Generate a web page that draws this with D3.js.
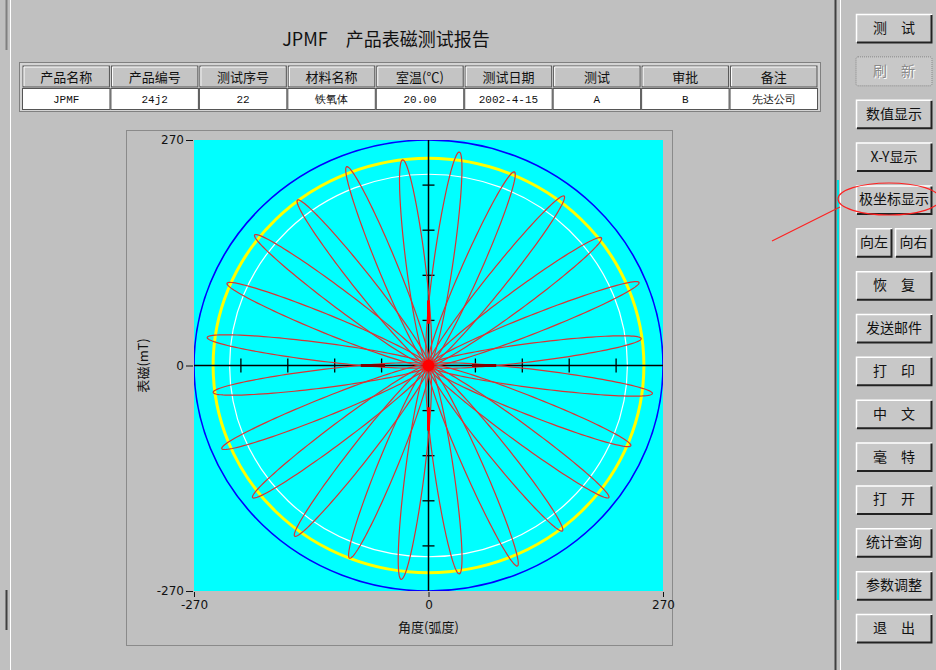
<!DOCTYPE html>
<html>
<head>
<meta charset="utf-8">
<script src="https://cdn.jsdelivr.net/npm/d3@7"></script>
<style>
  body { margin: 0; background: #c0c0c0; }
  text { font-family: "Noto Sans CJK SC", "DejaVu Sans", sans-serif; }
  .mono { font-family: "Liberation Mono", "DejaVu Sans Mono", monospace; }
</style>
</head>
<body>
<svg width="936" height="670"></svg>
<script>
// data
var tableHeaders = ["产品名称", "产品编号", "测试序号", "材料名称", "室温(℃)", "测试日期", "测试", "审批", "备注"];
var tableValues = ["JPMF", "24j2", "22", "铁氧体", "20.00", "2002-4-15", "A", "B", "先达公司"];

var petalAngles = [7.5, 22.3, 37.5, 52.4, 66.9, 82.1, 96.9, 111.6, 127.3, 142, 157, 172.5,
                   187.4, 202.7, 218, 233, 248.5, 263, 278.1, 293.1, 307.9, 322.7, 337.6, 352.6];
var petalPeaks = [247, 262, 251, 256, 252, 258, 248, 256, 249, 254, 252, 257,
                  250, 258, 257, 256, 248, 258, 252, 261, 251, 261, 252, 260];

var ringValues = [270, 248, 229];
var axisTicks = [-270, 0, 270];
var gridTicks = [-216, -162, -108, -54, 54, 108, 162, 216];
var axisMarks = [50, 78];

var buttonLabels = ["测\u3000试", "刷\u3000新", "数值显示", "X-Y显示", "极坐标显示", "向左|向右", "恢\u3000复", "发送邮件",
                    "打\u3000印", "中\u3000文", "毫\u3000特", "打\u3000开", "统计查询", "参数调整", "退\u3000出"];

var svg = d3.select("svg"),
    width = +svg.attr("width"),
    height = +svg.attr("height");

// window chrome
svg.append("rect").attr("width", width).attr("height", height).attr("fill", "#c0c0c0");
svg.append("line").attr("x1", 10.5).attr("x2", 10.5).attr("y1", 0).attr("y2", height).attr("stroke", "#fff");
svg.append("line").attr("x1", 6.5).attr("x2", 6.5).attr("y1", 0).attr("y2", 50).attr("stroke", "#808080").attr("stroke-width", 2);
svg.append("line").attr("x1", 6.5).attr("x2", 6.5).attr("y1", 590).attr("y2", 630).attr("stroke", "#404040").attr("stroke-width", 2);
svg.append("line").attr("x1", 835.5).attr("x2", 835.5).attr("y1", 0).attr("y2", height).attr("stroke", "#404040").attr("stroke-width", 2);
svg.append("line").attr("x1", 838).attr("x2", 838).attr("y1", 180).attr("y2", 600).attr("stroke", "#00e0e0").attr("stroke-width", 2);
svg.append("line").attr("x1", 840.5).attr("x2", 840.5).attr("y1", 0).attr("y2", height).attr("stroke", "#fff");

// title
svg.append("text")
    .attr("x", 386).attr("y", 46)
    .attr("text-anchor", "middle")
    .attr("font-size", "18px")
    .attr("fill", "#111")
    .text("JPMF\u3000产品表磁测试报告");

// info table
var col = d3.scaleLinear().domain([0, tableHeaders.length]).range([22, 818]);
svg.append("rect").attr("x", 19.5).attr("y", 62.5).attr("width", 801).attr("height", 49)
    .attr("fill", "#d4d4d4").attr("stroke", "#808080");

var cells = svg.selectAll(".cell")
    .data(tableHeaders)
    .enter().append("g")
    .attr("class", "cell");

cells.append("rect")
    .attr("x", function(d, i) { return col(i) + 1; })
    .attr("y", 66)
    .attr("width", function(d, i) { return col(i + 1) - col(i) - 2; })
    .attr("height", 21)
    .attr("fill", "#c4c4c4")
    .attr("stroke", "#555")
    .attr("stroke-width", 1);
cells.append("path")
    .attr("d", function(d, i) { return "M" + (col(i) + 2) + ",86V67H" + (col(i + 1) - 2); })
    .attr("fill", "none").attr("stroke", "#fff");
cells.append("text")
    .attr("x", function(d, i) { return (col(i) + col(i + 1)) / 2; })
    .attr("y", 82)
    .attr("text-anchor", "middle")
    .attr("font-size", "13px")
    .attr("fill", "#111")
    .text(function(d) { return d; });

cells.append("rect")
    .attr("x", function(d, i) { return col(i) + 0.5; })
    .attr("y", 88.5)
    .attr("width", function(d, i) { return col(i + 1) - col(i) - 1; })
    .attr("height", 21)
    .attr("fill", "#fff")
    .attr("stroke", "#555");
cells.append("text")
    .attr("class", "mono")
    .attr("x", function(d, i) { return (col(i) + col(i + 1)) / 2; })
    .attr("y", 103)
    .attr("text-anchor", "middle")
    .attr("font-size", "11px")
    .attr("fill", "#111")
    .text(function(d, i) { return tableValues[i]; });

// chart frame
svg.append("rect").attr("x", 126.5).attr("y", 130.5).attr("width", 546).attr("height", 515)
    .attr("fill", "none").attr("stroke", "#555").attr("stroke-dasharray", "1,1");

var x = d3.scaleLinear().domain([-270, 270]).range([194, 663]);
var y = d3.scaleLinear().domain([-270, 270]).range([591, 140]);

svg.append("defs").append("clipPath").attr("id", "plotclip")
    .append("rect").attr("x", x(-270)).attr("y", y(270))
    .attr("width", x(270) - x(-270)).attr("height", y(-270) - y(270));

svg.append("rect")
    .attr("x", x(-270)).attr("y", y(270))
    .attr("width", x(270) - x(-270)).attr("height", y(-270) - y(270))
    .attr("fill", "#00ffff");

var plot = svg.append("g").attr("clip-path", "url(#plotclip)");

// reference rings: outer blue, yellow limit, white inner
var ringColors = ["#0000ff", "#ffff00", "#ffffff"];
var ringWidths = [1.6, 3, 1.2];
plot.selectAll(".ring")
    .data(ringValues)
    .enter().append("ellipse")
    .attr("class", "ring")
    .attr("cx", x(0)).attr("cy", y(0))
    .attr("rx", function(d) { return x(d) - x(0); })
    .attr("ry", function(d) { return y(0) - y(d); })
    .attr("fill", "none")
    .attr("stroke", function(d, i) { return ringColors[i]; })
    .attr("stroke-width", function(d, i) { return ringWidths[i]; });

// axes cross
plot.append("line").attr("x1", x(-270)).attr("x2", x(270)).attr("y1", y(0)).attr("y2", y(0))
    .attr("stroke", "#000").attr("stroke-width", 1.5);
plot.append("line").attr("x1", x(0)).attr("x2", x(0)).attr("y1", y(270)).attr("y2", y(-270))
    .attr("stroke", "#000").attr("stroke-width", 1.5);

plot.selectAll(".xt")
    .data(gridTicks)
    .enter().append("line")
    .attr("x1", function(d) { return x(d); }).attr("x2", function(d) { return x(d); })
    .attr("y1", y(0) - 7).attr("y2", y(0) + 7)
    .attr("stroke", "#000").attr("stroke-width", 1.3);
plot.selectAll(".yt")
    .data(gridTicks)
    .enter().append("line")
    .attr("x1", x(0) - 6).attr("x2", x(0) + 6)
    .attr("y1", function(d) { return y(d); }).attr("y2", function(d) { return y(d); })
    .attr("stroke", "#000").attr("stroke-width", 1.3);

// petals: each lobe is an elongated loop from the centre out to its peak
var lobeHalfWidth = 11;
var line = d3.line()
    .x(function(p) { return x(p[0]); })
    .y(function(p) { return y(p[1]); });

plot.selectAll(".petal")
    .data(petalAngles)
    .enter().append("path")
    .attr("class", "petal")
    .attr("d", function(ang, i) {
        var a = petalPeaks[i] / 2, th = ang * Math.PI / 180, pts = [];
        for (var k = 0; k <= 120; k++) {
            var t = Math.PI + k / 120 * 2 * Math.PI;
            var u = a + a * Math.cos(t), v = lobeHalfWidth * Math.sin(t);
            pts.push([u * Math.cos(th) - v * Math.sin(th), u * Math.sin(th) + v * Math.cos(th)]);
        }
        return line(pts);
    })
    .attr("fill", "none")
    .attr("stroke", "#d83434")
    .attr("stroke-width", 1.2);

// thick marks on the axes
[-1, 1].forEach(function(s) {
    plot.append("line")
        .attr("x1", x(0)).attr("x2", x(0))
        .attr("y1", y(s * axisMarks[0])).attr("y2", y(s * axisMarks[1]))
        .attr("stroke", "#ff0000").attr("stroke-width", 3);
    plot.append("line")
        .attr("x1", x(s * axisMarks[0])).attr("x2", x(s * axisMarks[1]))
        .attr("y1", y(0)).attr("y2", y(0))
        .attr("stroke", "#800000").attr("stroke-width", 3);
});

plot.append("circle").attr("cx", x(0)).attr("cy", y(0)).attr("r", 6).attr("fill", "#ff0000");

// outer axes
var fmt = function(d) { return d < 0 ? "-" + (-d) : d; };
var yAxis = svg.append("g")
    .attr("transform", "translate(" + (x(-270) - 1) + ",0)")
    .call(d3.axisLeft(y).tickValues(axisTicks).tickSize(7).tickFormat(fmt));
var xAxis = svg.append("g")
    .attr("transform", "translate(0," + (y(-270) + 1) + ")")
    .call(d3.axisBottom(x).tickValues(axisTicks).tickSize(5).tickFormat(fmt));
[xAxis, yAxis].forEach(function(g) {
    g.select(".domain").remove();
    g.selectAll("text").attr("font-size", "12px").attr("fill", "#111")
        .style("font-family", "'DejaVu Sans', sans-serif");
    g.selectAll("line").attr("stroke", "#111");
});
yAxis.selectAll("text").attr("x", -9);
xAxis.selectAll("text").attr("y", 8);

svg.append("text")
    .attr("x", x(0)).attr("y", 632)
    .attr("text-anchor", "middle")
    .attr("font-size", "13px").attr("fill", "#111")
    .text("角度(弧度)");
svg.append("text")
    .attr("transform", "translate(148," + y(0) + ") rotate(-90)")
    .attr("text-anchor", "middle")
    .attr("font-size", "13px").attr("fill", "#111")
    .text("表磁(mT)");

// button panel
var by = d3.scaleLinear().domain([0, buttonLabels.length - 1]).range([28, 628]);
function button(bx, bw, cy, label, disabled) {
    var g = svg.append("g");
    g.append("rect").attr("x", bx).attr("y", cy - 14).attr("width", bw).attr("height", 29)
        .attr("rx", 2).attr("fill", "#c8c8c8")
        .attr("stroke", disabled ? "#888" : "none").attr("stroke-dasharray", disabled ? "1,1" : null);
    if (!disabled) {
        g.append("path").attr("d", "M" + (bx + 0.5) + "," + (cy + 14) + "V" + (cy - 13.5) + "H" + (bx + bw))
            .attr("fill", "none").attr("stroke", "#fff").attr("stroke-width", 1.5);
        g.append("path").attr("d", "M" + (bx + 1) + "," + (cy + 14.5) + "H" + (bx + bw - 0.5) + "V" + (cy - 13))
            .attr("fill", "none").attr("stroke", "#222").attr("stroke-width", 2);
    }
    if (disabled) {
        g.append("text").attr("x", bx + bw / 2 + 1).attr("y", cy + 6).attr("text-anchor", "middle")
            .attr("font-size", "14px").attr("fill", "#fff").text(label);
    }
    g.append("text").attr("x", bx + bw / 2).attr("y", cy + 5).attr("text-anchor", "middle")
        .attr("font-size", "14px").attr("fill", disabled ? "#8a8a8a" : "#111")
        .text(label);
}
buttonLabels.forEach(function(label, i) {
    if (label.indexOf("|") >= 0) {
        var parts = label.split("|");
        button(856, 36, by(i), parts[0], false);
        button(895, 37, by(i), parts[1], false);
    } else {
        button(856, 76, by(i), label, i === 1);
    }
});

// red hand-drawn annotation
svg.append("ellipse").attr("cx", 889).attr("cy", 199).attr("rx", 51).attr("ry", 16)
    .attr("fill", "none").attr("stroke", "#ff2020").attr("stroke-width", 1.2);
svg.append("line").attr("x1", 772).attr("y1", 241).attr("x2", 840).attr("y2", 207)
    .attr("stroke", "#ff2020").attr("stroke-width", 1.2);
</script>
</body>
</html>
